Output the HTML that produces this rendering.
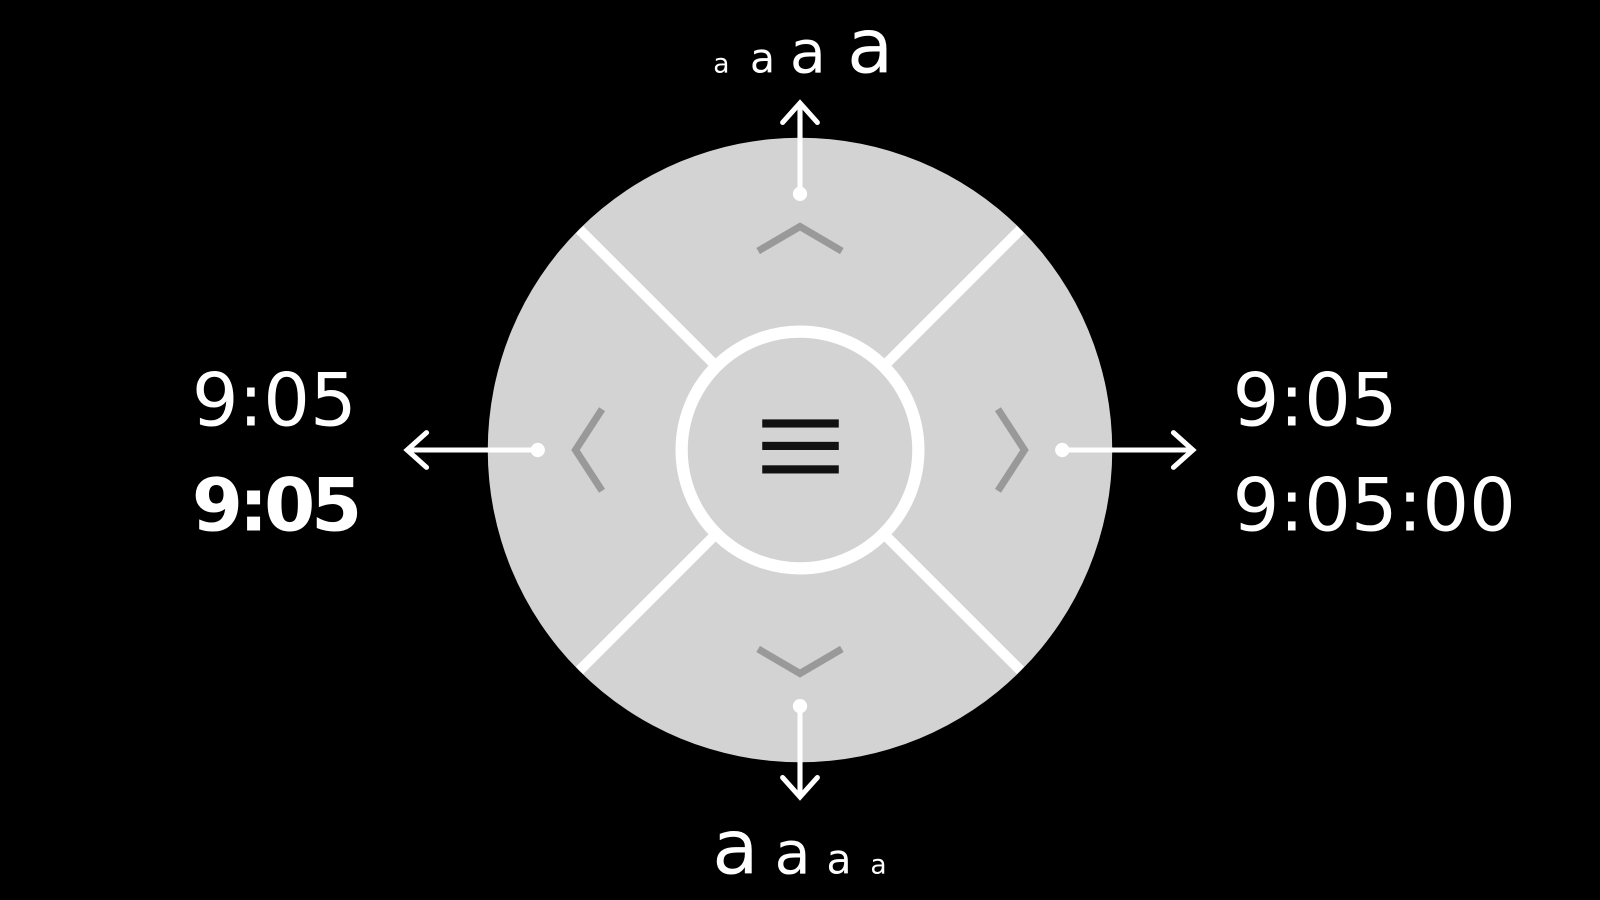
<!DOCTYPE html>
<html><head><style>
html,body{margin:0;padding:0;background:#000;width:1600px;height:900px;overflow:hidden}
svg{display:block}
text{font-family:"DejaVu Sans","Liberation Sans",sans-serif;fill:#fff}
</style></head><body>
<svg width="1600" height="900" viewBox="0 0 1568 882" preserveAspectRatio="none">
<rect width="1568" height="882" fill="#000"/>
<circle cx="784" cy="441" r="306" fill="#d3d3d3"/>
<g stroke="#fff" stroke-width="10">
<line x1="568" y1="225" x2="700" y2="357"/>
<line x1="1000" y1="225" x2="868" y2="357"/>
<line x1="568" y1="657" x2="700" y2="525"/>
<line x1="1000" y1="657" x2="868" y2="525"/>
</g>
<circle cx="784" cy="441" r="116" fill="#d3d3d3" stroke="#fff" stroke-width="12"/>
<g fill="#111">
<rect x="747" y="411" width="75" height="8"/>
<rect x="747" y="433" width="75" height="8"/>
<rect x="747" y="456" width="75" height="8"/>
</g>
<g stroke="#999" stroke-width="7" fill="none">
<polyline points="743,246 784,222 825,246"/>
<polyline points="743,636 784,660 825,636"/>
<polyline points="590,401 564,441 590,481"/>
<polyline points="978,401 1004,441 978,481"/>
</g>
<g stroke="#fff" stroke-width="5" fill="none" stroke-linecap="round">
<line x1="784" y1="190" x2="784" y2="102"/><polyline points="767,120 784,101 801,120"/>
<line x1="784" y1="692" x2="784" y2="780"/><polyline points="767,762 784,781 801,762"/>
<line x1="527" y1="441" x2="400" y2="441"/><polyline points="418,424 399,441 418,458"/>
<line x1="1041" y1="441" x2="1168" y2="441"/><polyline points="1150,424 1169,441 1150,458"/>
</g>
<g fill="#fff">
<circle cx="784" cy="190" r="7"/><circle cx="784" cy="692" r="7"/>
<circle cx="527" cy="441" r="7"/><circle cx="1041" cy="441" r="7"/>
</g>
<text x="188" y="417" font-size="72">9:05</text>
<text x="188" y="520" font-size="72" font-weight="bold" letter-spacing="-4">9:05</text>
<text x="1208" y="417" font-size="72">9:05</text>
<text x="1208" y="520" font-size="72">9:05:00</text>
<text y="71"><tspan x="699" font-size="26">a</tspan><tspan x="735" font-size="40">a</tspan><tspan x="774" font-size="58">a</tspan><tspan x="830" font-size="74">a</tspan></text>
<text y="856"><tspan x="698" font-size="74">a</tspan><tspan x="759" font-size="58">a</tspan><tspan x="810" font-size="40">a</tspan><tspan x="853" font-size="26">a</tspan></text>
</svg>
</body></html>
